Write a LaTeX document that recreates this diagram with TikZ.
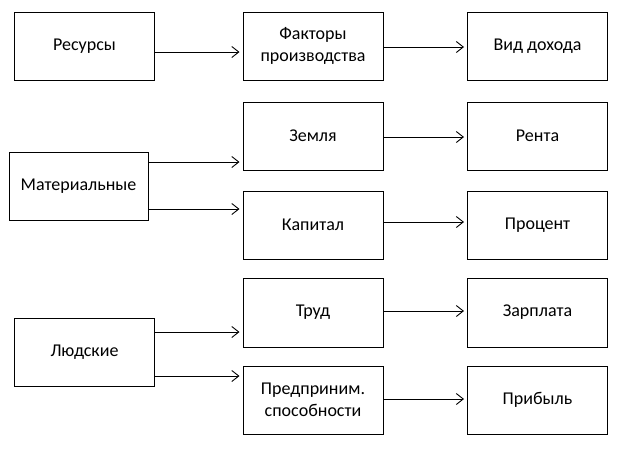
\documentclass[tikz,border=0pt]{standalone}
\usepackage{fontspec}
\setmainfont{Carlito}
\usetikzlibrary{arrows.meta,positioning}

\begin{document}
\begin{tikzpicture}[x=1pt,y=-1pt,>={Straight Barb[length=7pt,width=11pt]},
    box/.style={draw,line width=1pt,minimum width=140pt,minimum height=68pt,
      inner sep=0pt,align=center,font=\fontsize{18}{22}\selectfont},
    arr/.style={->,line width=0.9pt,shorten >=3pt}]
  \useasboundingbox (0,0) rectangle (619,453);

  % top row
  \node[box] (res) at (84.5,46) {Ресурсы};
  \node[box] (fak) at (313,46) {Факторы\\производства};
  \node[box] (vid) at (537.5,46) {Вид дохода};

  % material resources
  \node[box,minimum width=139pt] (mat) at (78.5,186) {Материальные};
  \node[box] (zem) at (313,136) {Земля};
  \node[box] (ren) at (537.5,136) {Рента};
  \node[box] (kap) at (313,225) {Капитал};
  \node[box] (pro) at (537.5,225) {Процент};

  % human resources
  \node[box] (lud) at (84.5,352.5) {Людские};
  \node[box,minimum height=69pt] (trud) at (313,312.5) {Труд};
  \node[box,minimum height=69pt] (zar) at (537.5,312.5) {Зарплата};
  \node[box] (pred) at (313,400) {Предприним.\\способности};
  \node[box] (pri) at (537.5,400) {Прибыль};

  \draw[arr] ([yshift=-6pt]res.east) -- ([yshift=-6pt]res.east -| fak.west);
  \draw[arr] ([yshift=-1pt]fak.east) -- ([yshift=-1pt]fak.east -| vid.west);

  \draw[arr] ([yshift=24pt]mat.east) -- ([yshift=24pt]mat.east -| zem.west);
  \draw[arr] ([yshift=-23pt]mat.east) -- ([yshift=-23pt]mat.east -| kap.west);
  \draw[arr] ([yshift=-1pt]zem.east) -- ([yshift=-1pt]zem.east -| ren.west);
  \draw[arr] ([yshift=3pt]kap.east) -- ([yshift=3pt]kap.east -| pro.west);

  \draw[arr] ([yshift=20.5pt]lud.east) -- ([yshift=20.5pt]lud.east -| trud.west);
  \draw[arr] ([yshift=-23.5pt]lud.east) -- ([yshift=-23.5pt]lud.east -| pred.west);
  \draw[arr] ([yshift=1.5pt]trud.east) -- ([yshift=1.5pt]trud.east -| zar.west);
  \draw[arr] ([yshift=1pt]pred.east) -- ([yshift=1pt]pred.east -| pri.west);
\end{tikzpicture}
\end{document}
